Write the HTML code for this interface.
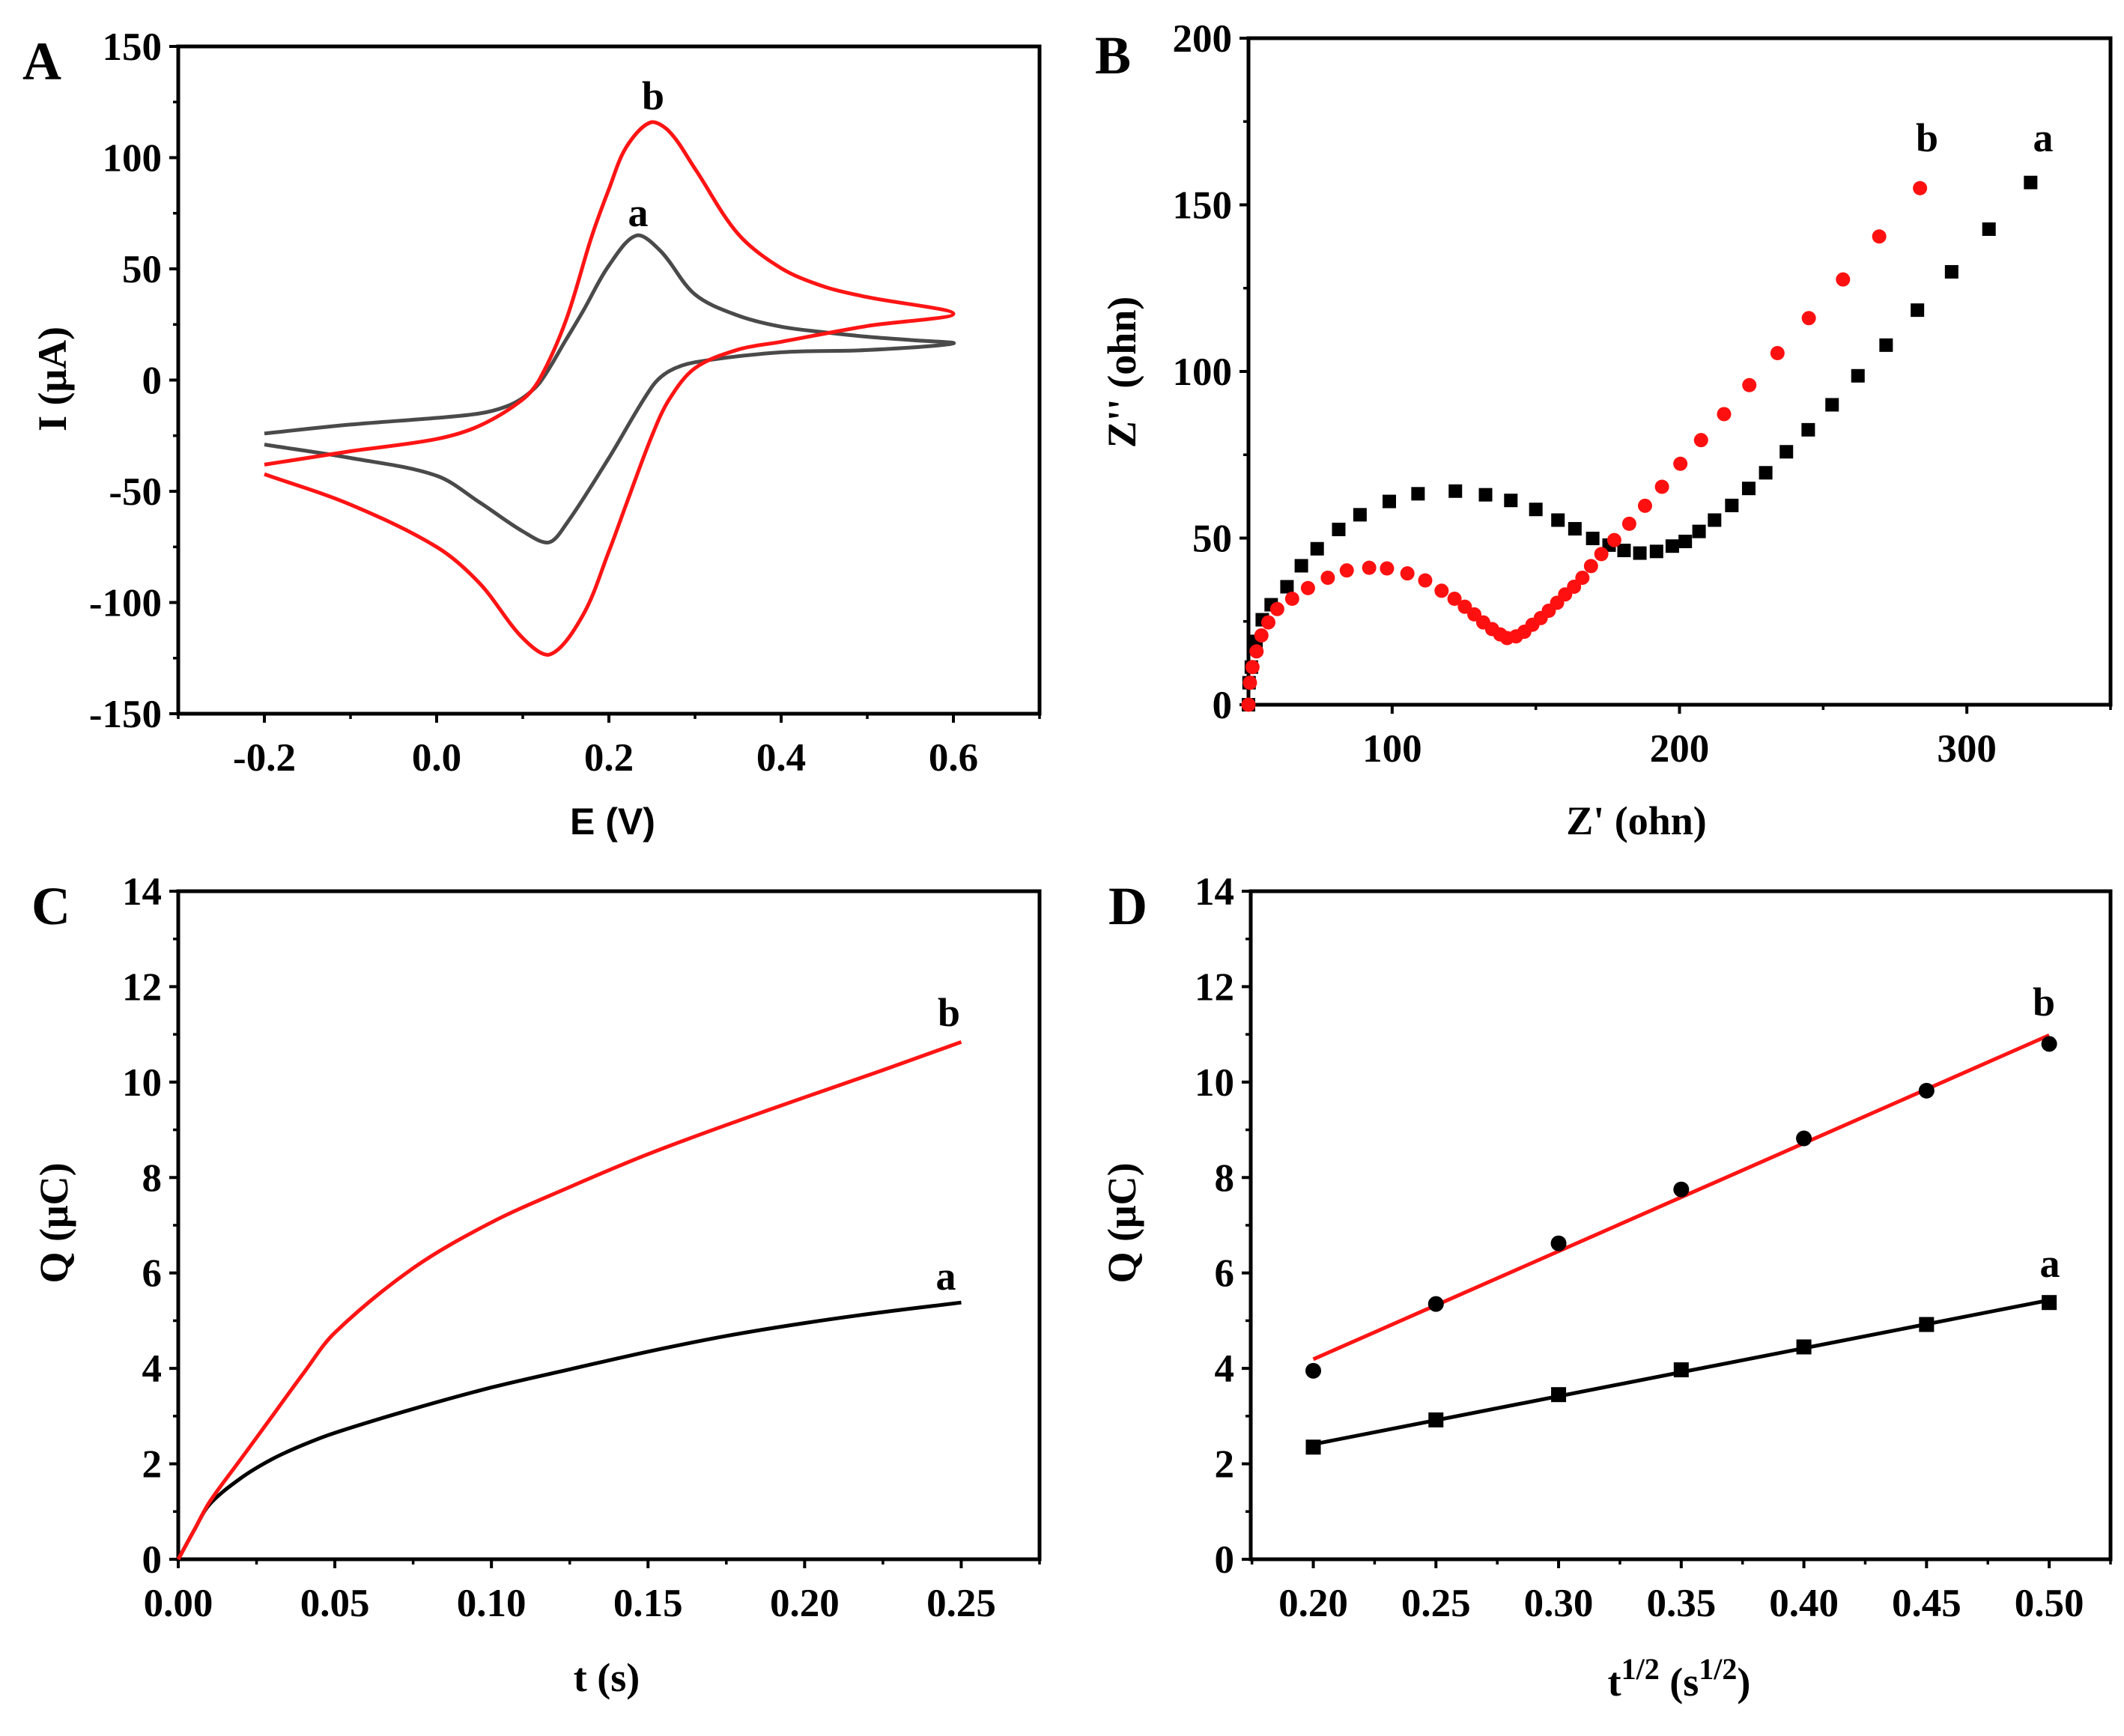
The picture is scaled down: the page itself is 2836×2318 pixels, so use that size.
<!DOCTYPE html>
<html><head><meta charset="utf-8"><style>
html,body{margin:0;padding:0;background:#fff}
svg{display:block}
text{font-family:"Liberation Serif",serif;font-weight:bold;fill:#000}
</style></head><body>
<svg id="fig" xmlns="http://www.w3.org/2000/svg" width="2836" height="2318" viewBox="0 0 2836 2318"></svg>
<script>
// ---- Panel A data (CV) ----
const cvE_a=[-0.2,-0.1,0,0.05,0.08,0.1,0.12,0.15,0.17,0.2,0.232,0.26,0.3,0.35,0.4,0.45,0.5,0.55,0.6,0.5,0.4,0.3,0.27,0.25,0.2,0.15,0.13,0.1,0.05,0,-0.1,-0.2];
const cvI_a=[-24,-20,-17,-15,-12,-8,-1,18,31,51.5,65,58,38.5,29,24,21.5,19.5,18,16.5,13.5,12.5,8,4,-3,-35,-65,-73,-68,-55,-43,-35,-29];
const cvE_b=[-0.2,-0.1,0,0.05,0.1,0.12,0.15,0.18,0.2,0.22,0.248,0.27,0.3,0.35,0.4,0.45,0.5,0.6,0.5,0.4,0.35,0.3,0.27,0.25,0.22,0.2,0.17,0.132,0.1,0.05,0,-0.1,-0.2];
const cvI_b=[-38,-32,-26.5,-20.5,-8.7,0.7,26.7,64.5,85.8,104.6,115.8,111.8,95,65.7,50.3,42,37.3,29.8,24.3,17.2,13.7,5.4,-8.7,-25,-56,-77,-105.6,-123.3,-116,-91.4,-75,-56,-42.3];
const ticksA_x=[-0.2,0,0.2,0.4,0.6], ticksA_xl=["-0.2","0.0","0.2","0.4","0.6"];
const ticksA_y=[-150,-100,-50,0,50,100,150];
// ---- Panel B data (EIS) ----
const zRe_a=[50,50.2,51,52.6,54.8,57.9,63.4,68.4,73.9,81.4,88.8,99,109,122,132.5,141.3,150,157.7,163.6,169.8,175.5,180.7,186.2,192,197.5,202,206.8,212.2,218.2,224.1,230,237.2,244.8,253.1,262.1,271.9,282.8,294.7,307.7,322.2];
const zIm_a=[0,6.6,11.3,19,25.5,30,35.4,41.7,46.8,52.6,57,61,63.3,64.1,63,61.3,58.6,55.4,52.8,49.9,47.9,46.3,45.5,46,47.6,49,52,55.4,59.8,64.9,69.6,75.9,82.5,90,98.7,107.9,118.4,129.9,142.7,156.7];
const zRe_b=[50,50.5,51.4,52.8,54.5,56.9,60,65.2,70.7,77.6,84.2,92,98.2,105.3,111.5,117.2,121.7,125.3,128.6,131.7,134.8,137.6,140,143.1,146,148.8,151.7,154.5,157.4,160.2,163.3,166.2,169.2,172.8,177.3,182.5,188,193.9,200.3,207.5,215.5,224.3,234.1,245,256.9,269.5,283.7];
const zIm_b=[0,6.6,11.3,16,20.8,24.7,28.7,31.8,35,38.1,40.3,41.1,40.9,39.4,37.3,34.2,31.8,29.4,27.1,24.7,22.7,21.1,20,20.5,21.9,24,26,28.2,30.6,33.1,35.4,38.1,41.6,45.2,49.4,54.3,59.7,65.4,72.3,79.4,87.2,95.9,105.5,116,127.6,140.5,155];
const ticksB_x=[100,200,300], ticksB_y=[0,50,100,150,200];
// ---- Panel C data ----
const tC=[0,0.005,0.01,0.02,0.03,0.04,0.05,0.075,0.1,0.125,0.15,0.175,0.2,0.225,0.25];
const qC_a=[0,0.6,1.15,1.7,2.1,2.4,2.65,3.15,3.6,3.98,4.35,4.68,4.95,5.18,5.38];
const qC_b=[0,0.6,1.2,2.1,3.0,3.9,4.75,6.1,7.06,7.8,8.49,9.1,9.68,10.25,10.84];
const ticksC_x=[0,0.05,0.1,0.15,0.2,0.25], ticksC_xl=["0.00","0.05","0.10","0.15","0.20","0.25"];
const ticksQ_y=[0,2,4,6,8,10,12,14];
// ---- Panel D data ----
const sqD=[0.2,0.25,0.3,0.35,0.4,0.45,0.5];
const qD_a=[2.35,2.92,3.45,3.97,4.45,4.92,5.38];
const qD_b=[3.95,5.35,6.62,7.75,8.82,9.82,10.8];
const ticksD_xl=["0.20","0.25","0.30","0.35","0.40","0.45","0.50"];

const NS="http://www.w3.org/2000/svg";
const svg=document.getElementById('fig');
function el(tag,attrs,parent,txt){const e=document.createElementNS(NS,tag);for(const k in attrs)e.setAttribute(k,attrs[k]);if(txt!==undefined)e.textContent=txt;(parent||svg).appendChild(e);return e;}
function scale(d0,d1,p0,p1){return v=>p0+(v-d0)/(d1-d0)*(p1-p0);}
function dist(a,b){return Math.hypot(a[0]-b[0],a[1]-b[1])||1e-6;}
function smooth(pts){let d="M"+pts[0][0].toFixed(1)+","+pts[0][1].toFixed(1);
 const n=pts.length;
 const tan=pts.map((p,i)=>{const a=pts[Math.max(0,i-1)],b=pts[Math.min(n-1,i+1)];const L=dist(a,p)+dist(p,b);return [(b[0]-a[0])/L,(b[1]-a[1])/L];});
 for(let i=0;i<n-1;i++){const p1=pts[i],p2=pts[i+1],L=dist(p1,p2)/3;
  const c1=[p1[0]+tan[i][0]*L,p1[1]+tan[i][1]*L],c2=[p2[0]-tan[i+1][0]*L,p2[1]-tan[i+1][1]*L];
  d+="C"+c1.map(v=>v.toFixed(1))+" "+c2.map(v=>v.toFixed(1))+" "+p2.map(v=>v.toFixed(1));}
 return d;}

function axes(g,name,X0,X1,Y0,Y1,sx,sy,xt,xl,yt,yl,xminor,yminor,fs){
 const xa=el('g',{},g);
 
 
 xt.forEach((v,i)=>{el('line',{x1:sx(v),x2:sx(v),y1:Y1,y2:Y1+12,stroke:'#000','stroke-width':4},xa);
  const t=el('text',{x:sx(v),y:Y1+76,'text-anchor':'middle','font-size':fs},xa,xl[i]);
  
  });
 xminor.forEach(v=>el('line',{x1:sx(v),x2:sx(v),y1:Y1,y2:Y1+7,stroke:'#000','stroke-width':3.5},xa));
 const ya=el('g',{},g);
 
 
 yt.forEach((v,i)=>{el('line',{x1:X0-12,x2:X0,y1:sy(v),y2:sy(v),stroke:'#000','stroke-width':4},ya);
  const t=el('text',{x:X0-22,y:sy(v)+18,'text-anchor':'end','font-size':fs},ya,yl[i]);
  
  });
 yminor.forEach(v=>el('line',{x1:X0-7,x2:X0,y1:sy(v),y2:sy(v),stroke:'#000','stroke-width':3.5},ya));
 const f=el('rect',{x:X0,y:Y0,width:X1-X0,height:Y1-Y0,fill:'none',stroke:'#000','stroke-width':5},g);
 
 
}
function label(g,nm,x,y,txt,fs,extra){const t=el('text',Object.assign({x:x,y:y,'font-size':fs},extra||{}),g,txt);
 
 return t;}
function rng(a,b,s){const r=[];for(let v=a;v<=b+1e-9;v+=s)r.push(+v.toFixed(4));return r;}
const TF=53, AF=54;

// ===== Panel A =====
{const g=el('g',{});
 
 
 const X0=238,X1=1388,Y0=62,Y1=953;const sx=scale(-0.3,0.7,X0,X1),sy=scale(-150,150,Y1,Y0);
 axes(g,'panel-a',X0,X1,Y0,Y1,sx,sy,ticksA_x,ticksA_xl,ticksA_y,ticksA_y.map(String),rng(-0.3,0.7,0.1),rng(-125,125,50),TF);
 const pa=el('path',{d:smooth(cvE_a.map((v,i)=>[sx(v),sy(cvI_a[i])])),fill:'none',stroke:'#4a4a4a','stroke-width':5},g);
 
 
 const pb=el('path',{d:smooth(cvE_b.map((v,i)=>[sx(v),sy(cvI_b[i])])),fill:'none',stroke:'#ff1414','stroke-width':5},g);
 
 
 label(g,'curve-label-b',872,146,'b',AF,{'text-anchor':'middle'});
 label(g,'curve-label-a',852,302,'a',AF,{'text-anchor':'middle'});
 label(g,'panel-letter-a',30,106,'A',72);
 label(g,'y-axis-title-a',0,0,'I (μA)',AF,{'text-anchor':'middle',transform:'translate(88,506) rotate(-90)'});
 label(g,'x-axis-title-a',818,1114,'E (V)',50,{'text-anchor':'middle',style:'font-family:"Liberation Sans",sans-serif'});
}
// ===== Panel B =====
{const g=el('g',{});
 
 
 const X0=1667,X1=2818,Y0=51,Y1=941;const sx=scale(50,350,X0,X1),sy=scale(0,200,Y1,Y0);
 axes(g,'panel-b',X0,X1,Y0,Y1,sx,sy,ticksB_x,ticksB_x.map(String),ticksB_y,ticksB_y.map(String),rng(50,350,50),rng(25,175,50),TF);
 zRe_a.forEach((v,i)=>{const r=el('rect',{x:sx(v)-9,y:sy(zIm_a[i])-9,width:18,height:18,fill:'#000'},g);
  
  });
 zRe_b.forEach((v,i)=>{const c=el('circle',{cx:sx(v),cy:sy(zIm_b[i]),r:9.5,fill:'#ff1010'},g);
  
  });
 label(g,'curve-label-b',2573,202,'b',AF,{'text-anchor':'middle'});
 label(g,'curve-label-a',2728,202,'a',AF,{'text-anchor':'middle'});
 label(g,'panel-letter-b',1462,98,'B',72);
 label(g,'y-axis-title-b',0,0,"Z'' (ohn)",AF,{'text-anchor':'middle',transform:'translate(1516,497) rotate(-90)'});
 label(g,'x-axis-title-b',2185,1114,"Z' (ohn)",AF,{'text-anchor':'middle'});
}
// ===== Panel C =====
{const g=el('g',{});
 
 
 const X0=238,X1=1388,Y0=1190,Y1=2082;const sx=scale(0,0.275,X0,X1),sy=scale(0,14,Y1,Y0);
 axes(g,'panel-c',X0,X1,Y0,Y1,sx,sy,ticksC_x,ticksC_xl,ticksQ_y,ticksQ_y.map(String),rng(0.025,0.275,0.05),rng(1,13,2),TF);
 const pa=el('path',{d:smooth(tC.map((v,i)=>[sx(v),sy(qC_a[i])])),fill:'none',stroke:'#000','stroke-width':5},g);
 
 
 const pb=el('path',{d:smooth(tC.map((v,i)=>[sx(v),sy(qC_b[i])])),fill:'none',stroke:'#ff1414','stroke-width':5},g);
 
 
 label(g,'curve-label-b',1267,1370,'b',AF,{'text-anchor':'middle'});
 label(g,'curve-label-a',1263,1722,'a',AF,{'text-anchor':'middle'});
 label(g,'panel-letter-c',42,1234,'C',72);
 label(g,'y-axis-title-c',0,0,'Q (μC)',AF,{'text-anchor':'middle',transform:'translate(90,1633) rotate(-90)'});
 label(g,'x-axis-title-c',810,2258,'t (s)',AF,{'text-anchor':'middle'});
}
// ===== Panel D =====
{const g=el('g',{});
 
 
 const X0=1670,X1=2818,Y0=1190,Y1=2082;const sx=scale(0.1745,0.525,X0,X1),sy=scale(0,14,Y1,Y0);
 axes(g,'panel-d',X0,X1,Y0,Y1,sx,sy,sqD,ticksD_xl,ticksQ_y,ticksQ_y.map(String),rng(0.175,0.525,0.05),rng(1,13,2),TF);
 function fit(xs,ys){const n=xs.length,mx=xs.reduce((a,b)=>a+b)/n,my=ys.reduce((a,b)=>a+b)/n;let sxy=0,sxx=0;xs.forEach((x,i)=>{sxy+=(x-mx)*(ys[i]-my);sxx+=(x-mx)*(x-mx);});const m=sxy/sxx;return [m,my-m*mx];}
 [[qD_a,'#000','a'],[qD_b,'#ff1414','b']].forEach(([ys,col,nm])=>{const [m,c]=fit(sqD,ys);const x0=sqD[0],x1=sqD[sqD.length-1];
  const ln=el('line',{x1:sx(x0),y1:sy(m*x0+c),x2:sx(x1),y2:sy(m*x1+c),stroke:col,'stroke-width':5},g);
  
  });
 sqD.forEach((v,i)=>{const r=el('rect',{x:sx(v)-10,y:sy(qD_a[i])-10,width:20,height:20,fill:'#000'},g);
  
  
  const c=el('circle',{cx:sx(v),cy:sy(qD_b[i]),r:10.5,fill:'#000'},g);
  
  });
 label(g,'curve-label-b',2729,1356,'b',AF,{'text-anchor':'middle'});
 label(g,'curve-label-a',2737,1705,'a',AF,{'text-anchor':'middle'});
 label(g,'panel-letter-d',1480,1234,'D',72);
 const t=label(g,'x-axis-title-d',2242,2264,'',AF,{'text-anchor':'middle'});
 el('tspan',{},t,'t');el('tspan',{dy:-22,'font-size':40},t,'1/2');el('tspan',{dy:22},t,' (s');el('tspan',{dy:-22,'font-size':40},t,'1/2');el('tspan',{dy:22},t,')');
 label(g,'y-axis-title-d',0,0,'Q (μC)',AF,{'text-anchor':'middle',transform:'translate(1516,1633) rotate(-90)'});
}
</script>
</body></html>
